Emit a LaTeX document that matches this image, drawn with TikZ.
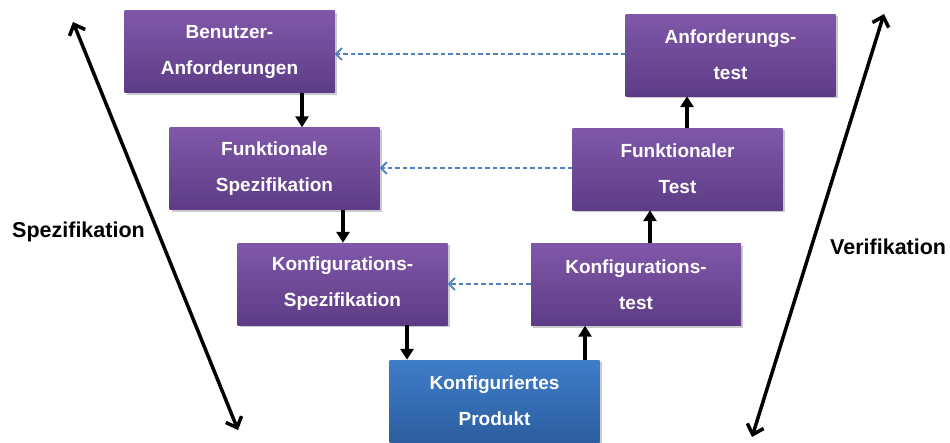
\documentclass[tikz,border=0pt]{standalone}
\usepackage{fontspec}
\setmainfont{Liberation Sans}
\usetikzlibrary{arrows.meta,shadows}
\definecolor{purpletop}{RGB}{128,88,170}
\definecolor{purplebot}{RGB}{93,60,133}
\definecolor{bluetop}{RGB}{62,125,200}
\definecolor{bluebot}{RGB}{44,94,160}
\definecolor{dashblue}{RGB}{79,129,189}
\tikzset{
  stage/.style={rectangle, minimum width=210pt, minimum height=82pt, inner sep=0pt,
    top color=purpletop, bottom color=purplebot, draw=none,
    text=white, align=center, font=\fontsize{19}{36}\selectfont\bfseries,
    drop shadow={shadow xshift=2pt, shadow yshift=-2pt, opacity=0.35, fill=black!60}},
  product/.style={stage, top color=bluetop, bottom color=bluebot},
  flow/.style={line width=3.5pt, -{Triangle[length=11pt,width=13pt]}},
  trace/.style={dashblue, line width=1.8pt, dash pattern=on 4.5pt off 3pt,
    -{Straight Barb[length=6pt,width=12pt,line width=1.8pt]}},
  phase/.style={line width=3.5pt, {Straight Barb[length=9pt,width=17pt,line width=3.5pt]}-{Straight Barb[length=9pt,width=17pt,line width=3.5pt]}},
  phaselabel/.style={font=\fontsize{21.5}{24}\selectfont\bfseries, inner sep=0pt}
}
\begin{document}
\begin{tikzpicture}[x=1pt,y=-1pt]
  \useasboundingbox (0,0) rectangle (950,442);

  % left branch: specification stages
  \node[stage] (ba) at (229.5,51.5) {Benutzer-\\Anforderungen};
  \node[stage] (fs) at (274.5,168.5) {Funktionale\\Spezifikation};
  \node[stage] (ks) at (342.5,284) {Konfigurations-\\Spezifikation};

  % right branch: verification stages
  \node[stage] (at) at (730.5,55) {Anforderungs-\\test};
  \node[stage] (ft) at (677.5,169) {Funktionaler\\Test};
  \node[stage] (kt) at (636,284.5) {Konfigurations-\\test};

  % bottom of the V
  \node[product] (kp) at (494.5,401) {Konfiguriertes\\Produkt};

  % downward flow on the left
  \draw[flow] (ba.south -| 302,0) -- (fs.north -| 302,0);
  \draw[flow] (fs.south -| 343,0) -- (ks.north -| 343,0);
  \draw[flow] (ks.south -| 407,0) -- (kp.north -| 407,0);

  % upward flow on the right
  \draw[flow] (kp.north -| 585,0) -- (kt.south -| 585,0);
  \draw[flow] (kt.north -| 650,0) -- (ft.south -| 650,0);
  \draw[flow] (ft.north -| 687,0) -- (at.south -| 687,0);

  % tests trace back to their specifications
  \draw[trace] (at.west |- 0,54) -- (ba.east |- 0,54);
  \draw[trace] (ft.west |- 0,168) -- (fs.east |- 0,168);
  \draw[trace] (kt.west |- 0,284) -- (ks.east |- 0,284);

  % phase axes
  \coordinate (spectop) at (73,22);
  \coordinate (specbot) at (238,430);
  \coordinate (vertop) at (884,14);
  \coordinate (verbot) at (752,437);
  \draw[phase] (spectop) -- (specbot);
  \draw[phase] (vertop) -- (verbot);

  \node[phaselabel, anchor=west] (spec) at (12,232) {Spezifikation};
  \node[phaselabel, anchor=west] (verif) at (830,247) {Verifikation};
\end{tikzpicture}
\end{document}
